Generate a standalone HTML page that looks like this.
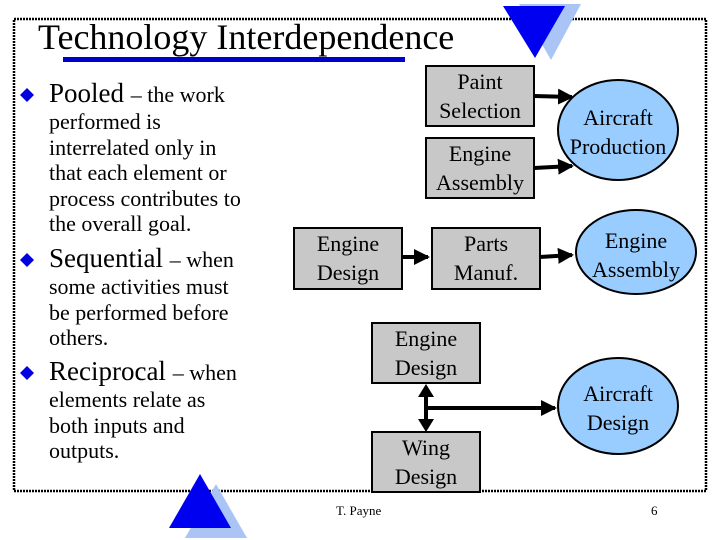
<!DOCTYPE html>
<html><head><style>
*{font-family:"Liberation Serif","Times New Roman",serif !important;}
body{margin:0;width:720px;height:540px;background:#fff;position:relative;overflow:hidden;}
.t{position:absolute;white-space:nowrap;color:#000;}
</style></head><body>
<svg width="720" height="540" style="position:absolute;left:0;top:0">
<defs><marker id="a" markerWidth="4" markerHeight="4" refX="3.5" refY="2" orient="auto" markerUnits="strokeWidth"><path d="M0,0L4,2L0,4z" fill="#000"/></marker></defs>
<rect x="14" y="19" width="692" height="472" fill="none" stroke="#000" stroke-width="2.5" stroke-dasharray="2,1"/>
<polygon points="519,4 581,4 551,60" fill="#a9c4f5"/>
<polygon points="503,6 565,6 535,58" fill="#0000f0"/>
<polygon points="185,538 247,538 216,484" fill="#a9c4f5"/>
<polygon points="169,528 231,528 200,474" fill="#0000f0"/>
<rect x="63" y="57" width="342" height="5" fill="#0000cc"/>
<g fill="#c8c8c8" stroke="#000" stroke-width="2">
<rect x="426" y="66" width="108" height="60"/>
<rect x="426" y="138" width="108" height="60"/>
<rect x="294" y="228" width="108" height="61"/>
<rect x="432" y="228" width="108" height="61"/>
<rect x="372" y="323" width="108" height="60"/>
<rect x="372" y="432" width="108" height="60"/>
</g>
<g fill="#99ccff" stroke="#000" stroke-width="2">
<ellipse cx="618" cy="130" rx="60" ry="50"/>
<ellipse cx="636" cy="252" rx="60" ry="42"/>
<ellipse cx="618" cy="406" rx="60" ry="48"/>
</g>
<g stroke="#000" stroke-width="4" fill="none">
<line x1="534" y1="96" x2="572" y2="97" marker-end="url(#a)"/>
<line x1="534" y1="168" x2="572" y2="166" marker-end="url(#a)"/>
<line x1="402" y1="257" x2="428" y2="257" marker-end="url(#a)"/>
<line x1="540" y1="257" x2="572" y2="255" marker-end="url(#a)"/>
<line x1="426" y1="408" x2="555" y2="408" marker-end="url(#a)"/>
<line x1="426" y1="395" x2="426" y2="420"/>
</g>
<polygon points="426,384 418,397 434,397" fill="#000"/>
<polygon points="426,432 418,419 434,419" fill="#000"/>
<g fill="#0000e0">
<polygon points="27,88 34,95 27,102 20,95"/>
<polygon points="27,253 34,260 27,267 20,260"/>
<polygon points="27,366 34,373 27,380 20,373"/>
</g>
</svg>
<div class="t" style="left:38px;top:16px;font-size:36px">Technology Interdependence</div>
<div class="t" style="left:49px;top:78px;font-size:27px">Pooled <span style="font-size:22px">– the work</span></div>
<div style="position:absolute;left:49px;top:109px;font-size:22px;line-height:25.5px">performed is<br>interrelated only in<br>that each element or<br>process contributes to<br>the overall goal.</div>
<div class="t" style="left:49px;top:243px;font-size:27px">Sequential <span style="font-size:22px">– when</span></div>
<div style="position:absolute;left:49px;top:274px;font-size:22px;line-height:25.5px">some activities must<br>be performed before<br>others.</div>
<div class="t" style="left:49px;top:356px;font-size:27px">Reciprocal <span style="font-size:22px">– when</span></div>
<div style="position:absolute;left:49px;top:387px;font-size:22px;line-height:25.5px">elements relate as<br>both inputs and<br>outputs.</div>
<div style="position:absolute;font-size:22px;line-height:29px;text-align:center;color:#000">
<div style="position:absolute;left:416px;top:67px;width:128px">Paint<br>Selection</div>
<div style="position:absolute;left:416px;top:139px;width:128px">Engine<br>Assembly</div>
<div style="position:absolute;left:284px;top:229px;width:128px">Engine<br>Design</div>
<div style="position:absolute;left:422px;top:229px;width:128px">Parts<br>Manuf.</div>
<div style="position:absolute;left:362px;top:324px;width:128px">Engine<br>Design</div>
<div style="position:absolute;left:362px;top:433px;width:128px">Wing<br>Design</div>
<div style="position:absolute;left:548px;top:103px;width:140px">Aircraft<br>Production</div>
<div style="position:absolute;left:566px;top:226px;width:140px">Engine<br>Assembly</div>
<div style="position:absolute;left:548px;top:379px;width:140px">Aircraft<br>Design</div>
</div>
<div class="t" style="left:336px;top:503px;font-size:13px">T. Payne</div>
<div class="t" style="left:651px;top:503px;font-size:13px">6</div>
</body></html>
